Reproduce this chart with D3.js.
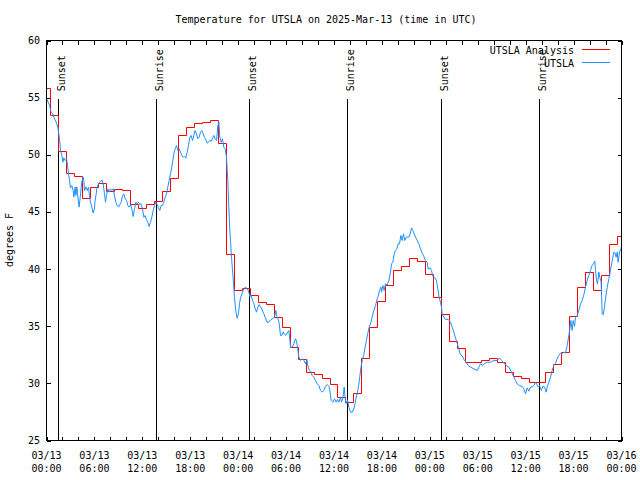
<!DOCTYPE html>
<html><head><meta charset="utf-8">
<script src="https://cdn.jsdelivr.net/npm/d3@7"></script>
<style>
body{margin:0;background:#fff}
text{font-family:"DejaVu Sans Mono","Liberation Mono",monospace;font-size:10px;fill:#000}
</style>
</head><body>
<svg id="chart" width="640" height="480"></svg>
<script>
const chartTitle = "Temperature for UTSLA on 2025-Mar-13 (time in UTC)";
const yAxisLabel = "degrees F";
const startTime = "2025-03-13T00:00:00Z";
const seriesNames = ["UTSLA Analysis", "UTSLA"];

// hourly analysis values, hours 0..72 after start
const analysisHours = d3.range(0, 73);
const analysisTemps = [
 55.8, 53.45, 50.3, 48.35, 48.1, 46.15, 47.1, 47.5, 46.8, 47.0,
 46.9, 45.65, 45.27, 45.63, 45.9, 46.82, 47.9, 51.69, 52.36, 52.71,
 52.86, 53.0, 51.0, 41.3, 38.13, 38.27, 37.69, 37.05, 36.87, 35.79,
 34.86, 33.17, 32.06, 30.98, 30.78, 30.4, 29.87, 28.79, 28.35, 29.08,
 32.2, 34.92, 37.16, 38.6, 39.88, 40.23, 40.95, 40.65, 39.53, 37.54,
 36.0, 33.66, 33.04, 31.8, 31.8, 32.0, 32.14, 31.8, 30.98, 30.6,
 30.4, 30.11, 30.11, 30.98, 31.62, 32.73, 35.88, 38.36, 39.67, 38.13,
 39.44, 42.12, 42.85
];

// observations: hours after start and temperature
const obsHours = [
 0.0,0.08,0.38,0.58,0.79,1.0,1.21,1.42,1.63,1.75,1.92,2.05,2.17,2.34,2.5,2.59,2.75,2.88,3.0,3.17,
 3.34,3.42,3.59,3.67,3.8,3.92,4.09,4.26,4.42,4.59,4.67,4.76,4.92,5.09,5.26,5.38,5.5,5.68,5.84,6.0,
 6.09,6.22,6.34,6.51,6.72,6.93,7.1,7.26,7.39,7.51,7.68,7.85,8.01,8.18,8.35,8.51,8.68,8.85,9.02,9.18,
 9.35,9.52,9.68,9.85,10.02,10.18,10.35,10.52,10.68,10.85,11.02,11.19,11.35,11.52,11.69,11.85,12.02,12.19,12.35,12.52,
 12.69,12.85,13.02,13.19,13.36,13.52,13.69,13.86,14.02,14.19,14.36,14.52,14.69,14.86,15.03,15.19,15.36,15.53,15.69,15.82,
 15.94,16.11,16.28,16.44,16.61,16.78,16.94,17.11,17.28,17.45,17.61,17.78,17.95,18.11,18.28,18.45,18.61,18.78,18.95,19.12,
 19.28,19.45,19.62,19.78,19.95,20.12,20.28,20.45,20.62,20.78,20.95,21.12,21.29,21.37,21.45,21.58,21.7,21.87,22.04,22.2,
 22.37,22.54,22.7,22.83,22.95,23.04,23.17,23.37,23.54,23.71,23.87,24.04,24.17,24.3,24.5,24.71,24.92,25.13,25.33,25.46,
 25.63,25.8,25.96,26.13,26.3,26.46,26.63,26.8,27.0,27.21,27.42,27.63,27.84,28.05,28.3,28.55,28.72,28.8,28.97,29.13,
 29.3,29.47,29.63,29.8,29.97,30.14,30.35,30.56,30.76,30.97,31.18,31.3,31.43,31.6,31.81,32.02,32.23,32.43,32.6,32.77,
 32.94,33.1,33.27,33.48,33.69,33.9,34.1,34.31,34.52,34.73,34.94,35.15,35.36,35.48,35.65,35.86,36.07,36.27,36.44,36.61,
 36.82,36.94,37.11,37.28,37.4,37.53,37.69,37.86,38.07,38.28,38.49,38.65,38.82,38.98,39.11,39.23,39.4,39.57,39.73,39.9,
 40.07,40.24,40.4,40.57,40.78,40.99,41.2,41.41,41.53,41.7,41.87,41.95,42.12,42.28,42.45,42.65,42.87,43.08,43.2,43.37,
 43.54,43.7,43.87,44.04,44.2,44.37,44.54,44.7,44.87,45.04,45.2,45.37,45.54,45.71,45.87,46.04,46.21,46.42,46.62,46.83,
 47.04,47.25,47.46,47.67,47.79,48.04,48.21,48.38,48.58,48.83,49.0,49.16,49.33,49.46,49.54,49.75,49.96,50.3,50.59,50.8,
 51.01,51.22,51.42,51.63,51.84,52.04,52.26,52.55,52.8,53.1,53.51,53.93,54.14,54.35,54.64,54.89,55.18,55.6,56.02,56.43,
 56.73,56.98,57.27,57.56,57.89,58.23,58.52,58.73,58.94,59.23,59.56,59.77,59.98,60.19,60.4,60.61,60.82,61.02,61.23,61.4,
 61.57,61.73,61.98,62.15,62.35,62.57,62.74,62.9,63.11,63.32,63.53,63.74,63.95,64.15,64.36,64.57,64.78,64.99,65.2,65.41,
 65.53,65.66,65.82,65.95,66.12,66.24,66.45,66.66,66.87,67.08,67.29,67.49,67.7,67.91,68.12,68.33,68.54,68.66,68.75,68.87,
 69.0,69.16,69.33,69.45,69.58,69.71,69.87,70.0,70.21,70.42,70.62,70.83,71.04,71.2,71.33,71.46,71.58,71.75,71.92,72.0
];
const obsTemps = [
 55.0,54.8,54.3,53.73,53.58,53.15,52.85,52.4,51.4,50.4,49.94,49.35,49.73,49.5,49.65,49.35,48.4,47.75,47.1,47.3,
 46.87,46.3,47.17,46.44,47.2,46.3,45.42,46.58,47.6,48.04,47.75,46.87,47.2,46.87,47.17,46.44,45.85,45.42,44.9,45.27,
 46.0,46.58,47.17,47.46,47.6,47.81,47.46,46.58,45.85,46.44,47.02,46.73,47.02,46.87,47.02,46.44,45.85,45.56,45.42,45.65,
 45.85,46.44,46.58,46.15,46.0,45.56,45.42,45.65,45.27,44.6,45.27,45.85,45.71,45.85,45.65,45.71,45.27,44.54,44.69,44.31,
 44.1,43.72,44.1,44.54,45.13,45.56,45.85,45.65,45.36,45.13,45.56,45.56,45.85,46.3,46.58,47.17,47.75,48.33,48.92,49.5,
 50.08,50.52,50.81,50.38,50.52,50.23,49.94,49.79,49.85,49.73,50.23,50.81,51.54,51.69,51.25,51.69,52.13,51.83,51.4,51.54,
 51.98,52.13,51.83,51.54,51.31,51.02,51.1,51.25,51.19,51.4,51.69,51.4,51.25,51.83,52.56,52.85,51.54,51.1,51.4,50.67,
 50.52,49.79,47.75,45.42,43.5,42.5,41.0,39.2,37.5,36.3,35.7,36.1,37.0,37.5,37.9,38.3,38.4,38.3,38.0,37.6,
 37.69,37.25,37.0,36.5,36.23,36.67,36.9,36.7,36.45,36.1,35.7,35.35,35.35,35.55,35.65,35.8,36.38,35.94,35.7,35.27,
 34.19,34.2,34.5,34.3,34.2,34.4,34.63,33.17,33.17,33.46,33.9,33.7,33.17,32.29,32.0,32.15,32.0,31.71,32.1,31.42,
 31.13,30.98,30.69,30.54,30.25,29.96,29.81,29.38,29.23,29.38,29.75,29.9,29.75,29.38,28.5,28.35,28.65,28.35,28.6,28.35,
 28.79,28.35,28.7,29.67,28.65,28.21,28.56,27.92,27.48,27.48,27.77,28.3,28.9,29.38,29.9,30.6,31.5,32.1,32.5,33.2,
 33.8,34.4,34.9,35.2,35.79,36.38,36.81,37.4,37.6,38.13,38.42,37.98,38.56,38.13,38.71,38.6,39.0,39.73,40.46,40.6,
 41.33,41.63,41.77,42.21,42.2,42.94,42.5,43.08,42.5,42.79,42.8,42.79,43.08,43.6,43.38,43.08,42.79,42.5,42.21,41.77,
 41.4,41.1,40.75,40.6,40.0,40.1,39.88,39.35,39.29,39.0,38.27,37.54,37.1,36.67,36.08,35.8,35.6,35.6,35.35,34.92,
 34.48,33.95,33.5,33.0,32.5,32.4,32.1,31.85,31.56,31.42,31.27,31.13,31.42,31.71,31.56,31.77,31.85,31.85,32.0,32.0,
 32.23,32.0,31.77,31.56,31.42,30.98,30.54,30.25,29.96,29.81,29.73,29.52,29.08,29.6,29.32,29.67,29.7,29.81,30.1,29.9,
 29.67,29.81,29.38,29.73,29.7,29.23,29.81,30.1,30.54,31.13,31.56,31.77,32.15,32.44,32.64,32.6,32.73,32.65,33.31,34.19,
 34.77,35.5,34.63,35.5,34.98,35.79,35.94,36.38,36.96,37.25,37.77,38.42,39.0,39.44,39.88,40.31,40.52,40.69,39.88,39.0,
 38.71,39.73,39.15,38.9,36.08,36.0,36.67,37.4,38.42,39.15,39.88,40.69,41.48,41.4,41.04,41.48,40.6,41.48,41.77,41.92
];

const sunLabels = ["Sunset", "Sunrise", "Sunset", "Sunrise", "Sunset", "Sunrise"];
const sunHours = [1.53, 13.8, 25.47, 37.75, 49.47, 61.75];

const yTickValues = [25, 30, 35, 40, 45, 50, 55, 60];
const xTickHours = d3.range(0, 73, 2);
const xLabelHours = [0, 6, 12, 18, 24, 30, 36, 42, 48, 54, 60, 66, 72];

const t0 = new Date(startTime);
const toDate = h => new Date(t0.getTime() + h * 3600000);

const svg = d3.select("#chart");
const L = 46.5, R = 621.5, T = 40.5, B = 440.5;

const x = d3.scaleUtc().domain([toDate(0), toDate(72)]).range([L, R]);
const y = d3.scaleLinear().domain([25, 60]).range([B, T]);
const px = v => Math.round(v - 0.5) + 0.5;

// title
svg.append("text").attr("x", 326).attr("y", 23).attr("text-anchor", "middle").text(chartTitle);

// y label
svg.append("text").attr("transform", "translate(13,240) rotate(-90)")
  .attr("text-anchor", "middle").text(yAxisLabel);

// axes ticks (inward, mirrored)
const tickDates = xTickHours.map(toDate);
const axB = svg.append("g").attr("transform", `translate(0,${B})`)
  .call(d3.axisBottom(x).tickValues(tickDates).tickSize(-4).tickFormat(""));
const axT = svg.append("g").attr("transform", `translate(0,${T})`)
  .call(d3.axisTop(x).tickValues(tickDates).tickSize(-4).tickFormat(""));
const axL = svg.append("g").attr("transform", `translate(${L},0)`)
  .call(d3.axisLeft(y).tickValues(yTickValues).tickSize(-4).tickFormat(""));
const axR = svg.append("g").attr("transform", `translate(${R},0)`)
  .call(d3.axisRight(y).tickValues(yTickValues).tickSize(-4).tickFormat(""));
[axB, axT, axL, axR].forEach(g => {
  g.select(".domain").remove();
  g.selectAll("line").attr("stroke", "#000").attr("shape-rendering", "crispEdges");
});

// y tick labels
svg.append("g").selectAll("text").data(yTickValues).join("text")
  .attr("x", 40).attr("y", d => y(d) + 3.5).attr("text-anchor", "end").text(d => d);

// x tick labels (two lines)
const fmtDay = d3.utcFormat("%m/%d"), fmtTime = d3.utcFormat("%H:%M");
const xl = svg.append("g").selectAll("g").data(xLabelHours.map(toDate)).join("g");
xl.append("text").attr("x", d => x(d)).attr("y", 459).attr("text-anchor", "middle").text(d => fmtDay(d));
xl.append("text").attr("x", d => x(d)).attr("y", 472).attr("text-anchor", "middle").text(d => fmtTime(d));

// sunrise / sunset markers
const sun = svg.append("g").selectAll("g").data(sunHours.map((h, i) => ({h, label: sunLabels[i]}))).join("g");
sun.append("line")
  .attr("x1", d => px(x(toDate(d.h)))).attr("x2", d => px(x(toDate(d.h))))
  .attr("y1", y(54.9)).attr("y2", B).attr("stroke", "#000").attr("shape-rendering", "crispEdges");
sun.append("text")
  .attr("transform", d => `translate(${px(x(toDate(d.h))) + 6},${y(55.55)}) rotate(-90)`)
  .attr("text-anchor", "start").text(d => d.label);

// analysis step line: explicit step vertices at half-hour boundaries, snapped to pixels
const stepVerts = [];
analysisHours.forEach((h, i) => {
  const a = Math.max(0, h - 0.5), b = Math.min(72, h + 0.5);
  stepVerts.push({t: toDate(a), v: analysisTemps[i]});
  stepVerts.push({t: toDate(b), v: analysisTemps[i]});
});
svg.append("path").datum(stepVerts)
  .attr("fill", "none").attr("stroke", "#ff0000").attr("stroke-width", 1)
  .attr("d", d3.line().x(d => px(x(d.t))).y(d => px(y(d.v))));

// observations
const obsData = obsHours.map((h, i) => ({t: toDate(h), v: obsTemps[i]}));
svg.append("path").datum(obsData)
  .attr("fill", "none").attr("stroke", "#1e90ff").attr("stroke-width", 1)
  .attr("d", d3.line().x(d => x(d.t)).y(d => y(d.v)));

// border
svg.append("rect").attr("x", L).attr("y", T).attr("width", R - L).attr("height", B - T)
  .attr("fill", "none").attr("stroke", "#000").attr("shape-rendering", "crispEdges");

// legend
const legColors = ["#ff0000", "#1e90ff"];
const leg = svg.append("g").selectAll("g").data(seriesNames).join("g");
leg.append("text").attr("x", 574).attr("y", (d, i) => 54 + i * 13).attr("text-anchor", "end").text(d => d);
leg.append("line").attr("x1", 582).attr("x2", 610)
  .attr("y1", (d, i) => 49.5 + i * 13).attr("y2", (d, i) => 49.5 + i * 13)
  .attr("stroke", (d, i) => legColors[i]).attr("shape-rendering", "crispEdges");
</script>
</body></html>
